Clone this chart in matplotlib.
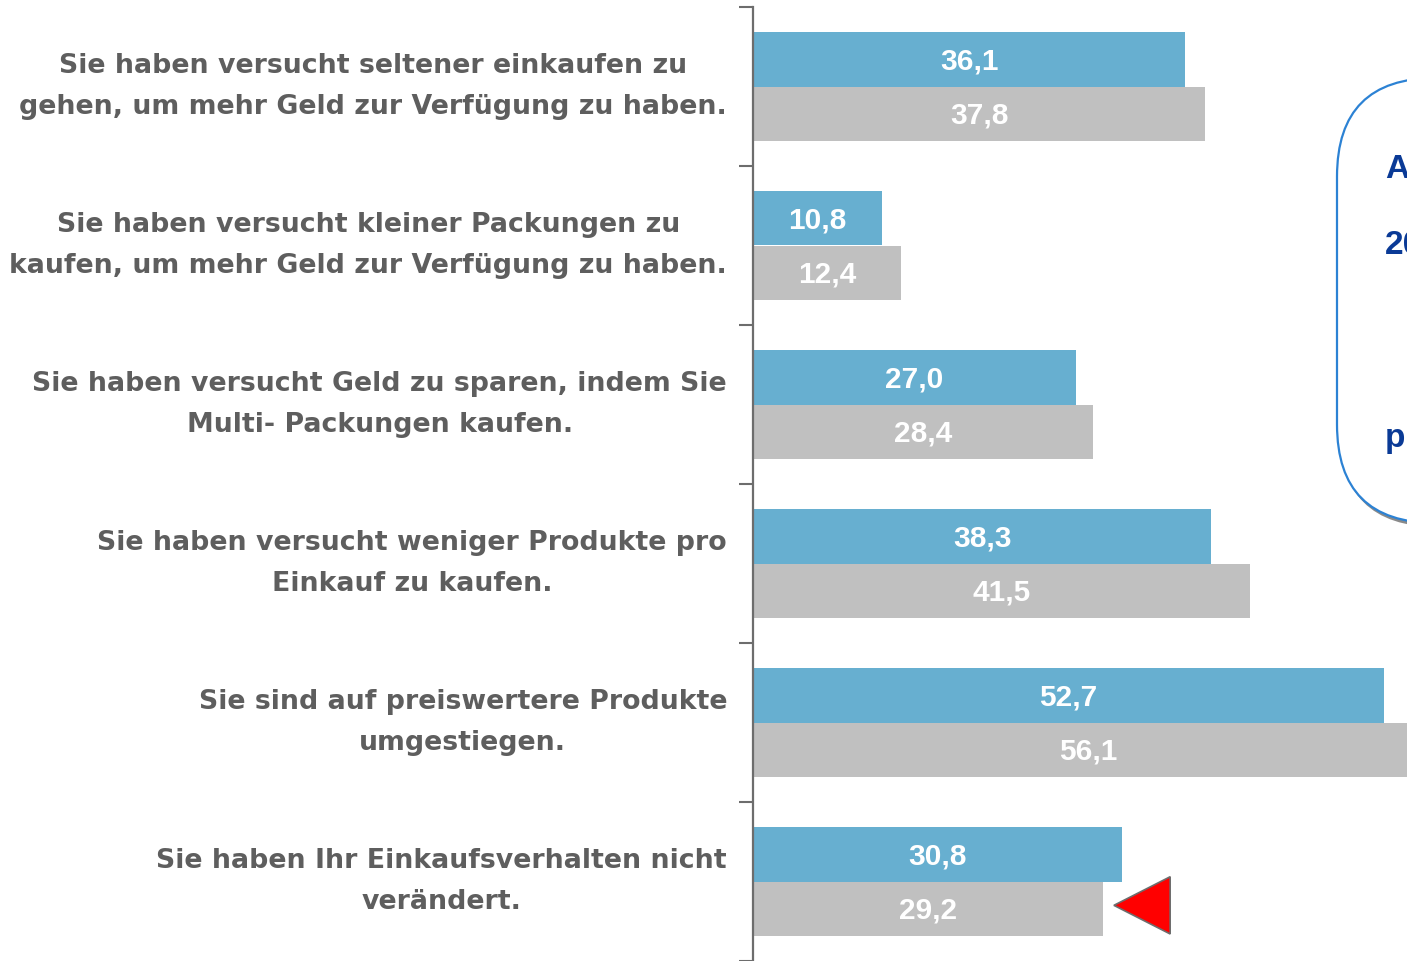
import numpy as np
import matplotlib.pyplot as plt
from matplotlib.patches import FancyBboxPatch, Polygon

plt.rcParams['font.family'] = ['Liberation Sans', 'DejaVu Sans']

categories = [
    'Sie haben versucht seltener einkaufen zu\ngehen, um mehr Geld zur Verfügung zu haben.',
    'Sie haben versucht kleiner Packungen zu\nkaufen, um mehr Geld zur Verfügung zu haben.',
    'Sie haben versucht Geld zu sparen, indem Sie\nMulti- Packungen kaufen.',
    'Sie haben versucht weniger Produkte pro\nEinkauf zu kaufen.',
    'Sie sind auf preiswertere Produkte\numgestiegen.',
    'Sie haben Ihr Einkaufsverhalten nicht\nverändert.',
]
blue_vals = [36.1, 10.8, 27.0, 38.3, 52.7, 30.8]
gray_vals = [37.8, 12.4, 28.4, 41.5, 56.1, 29.2]
box_texts = ['A', '20', 'p']

blue = '#67AFD0'
gray = '#C0C0C0'
txtgray = '#5E5E5E'

W, H = 1407, 961
fig = plt.figure(figsize=(W / 100, H / 100), dpi=100)
ax = fig.add_axes([753 / W, 0, 1 - 753 / W, 1 - 7 / H])

y = np.arange(len(categories))
bh = 0.34
ax.barh(y - bh / 2, blue_vals, height=bh, color=blue)
ax.barh(y + bh / 2, gray_vals, height=bh, color=gray)

for i in range(len(categories)):
    ax.text(blue_vals[i] / 2, y[i] - bh / 2 + 0.015, f'{blue_vals[i]:.1f}'.replace('.', ','),
            ha='center', va='center', color='white', fontsize=21.5, fontweight='bold')
    ax.text(gray_vals[i] / 2, y[i] + bh / 2 + 0.015, f'{gray_vals[i]:.1f}'.replace('.', ','),
            ha='center', va='center', color='white', fontsize=21.5, fontweight='bold')
    # wider face to get close to the letter-spaced labels of the original
    ax.text(-26 / 11.97, y[i], categories[i], ha='right', va='center',
            multialignment='center', color=txtgray, fontsize=19.3,
            fontweight='bold', linespacing=1.72, family='DejaVu Sans')

ax.set_xlim(0, (W - 753) / 11.97)
ax.set_ylim(len(categories) - 0.5, -0.5)

ax.set_xticks([])
ax.set_yticks(np.arange(-0.5, len(categories), 1.0))
ax.set_yticklabels([])
ax.tick_params(axis='y', length=10, width=1.5, color='#6D6D6D', direction='out')
for s in ['top', 'right', 'bottom']:
    ax.spines[s].set_visible(False)
ax.spines['left'].set_color('#6D6D6D')
ax.spines['left'].set_linewidth(1.6)

# red marker next to the last gray bar
last = len(categories) - 1
tx = gray_vals[last] + 0.95
ty = y[last] + bh / 2 - 0.02
tri = Polygon([[tx, ty], [tx + 4.7, ty - 0.18], [tx + 4.7, ty + 0.18]],
              closed=True, facecolor='red', edgecolor='#6D6D6D', lw=1.2,
              clip_on=False, zorder=5)
ax.add_patch(tri)

# rounded info box at the right, cut by the edge
shadow = FancyBboxPatch((1339 / W, 1 - 527 / H), 300 / W, 447 / H,
                        boxstyle='round,pad=0,rounding_size=0.07',
                        transform=fig.transFigure, facecolor='#8A8A8A',
                        edgecolor='none', mutation_aspect=W / H)
fig.patches.append(shadow)
box = FancyBboxPatch((1337 / W, 1 - 523 / H), 300 / W, 445 / H,
                     boxstyle='round,pad=0,rounding_size=0.07',
                     transform=fig.transFigure, facecolor='white',
                     edgecolor='#2C82D4', lw=1.6, mutation_aspect=W / H)
fig.patches.append(box)
for t, yy in zip(box_texts, [169, 245, 438]):
    fig.text(1385 / W, 1 - yy / H, t, ha='left', va='center',
             color='#0A3A96', fontsize=24, fontweight='bold')

fig.savefig('out.png', dpi=100)
